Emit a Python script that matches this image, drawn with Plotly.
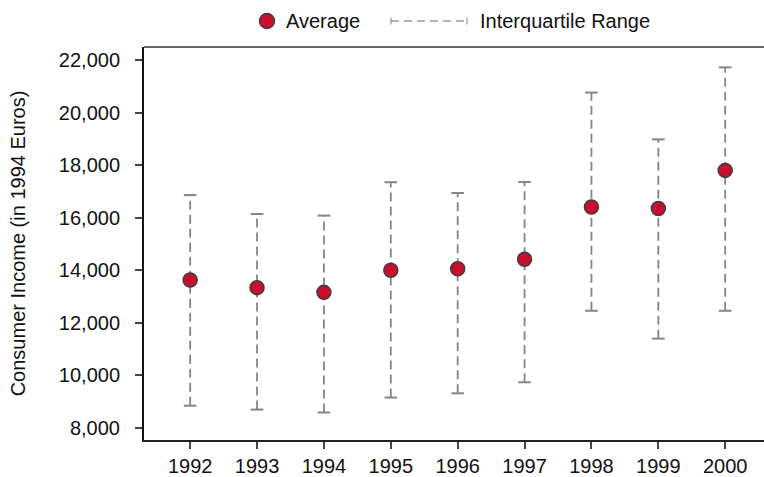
import plotly.graph_objects as go

# Consumer income by year: mean and interquartile range (1994 Euros)
years = [1992, 1993, 1994, 1995, 1996, 1997, 1998, 1999, 2000]
average = [13630, 13340, 13160, 14000, 14060, 14420, 16410, 16350, 17800]
q1 = [8850, 8700, 8590, 9160, 9320, 9740, 12460, 11400, 12460]
q3 = [16860, 16140, 16080, 17350, 16940, 17360, 20760, 18980, 21720]

y_ticks = list(range(8000, 22001, 2000))

W, H = 764, 477
M = dict(l=144, r=0, t=47, b=37)

FONT = "Liberation Sans, Arial, Helvetica, sans-serif"
FS = 20
RED = "#C8102E"
EDGE = "#3d3d3d"
GREY = "#858585"
INK = "#111111"

fig = go.Figure()

# dashed whiskers from Q1 to Q3
wx, wy = [], []
for x, lo, hi in zip(years, q1, q3):
    wx += [x, x, None]
    wy += [lo, hi, None]
fig.add_trace(go.Scatter(
    x=wx, y=wy, mode="lines", hoverinfo="skip", showlegend=False,
    line=dict(color=GREY, width=1.8, dash="9px,5px"),
))

# whisker caps
fig.add_trace(go.Scatter(
    x=years + years, y=q1 + q3, mode="markers", hoverinfo="skip", showlegend=False,
    marker=dict(symbol="line-ew", size=9, line=dict(color=GREY, width=2)),
))

# averages
fig.add_trace(go.Scatter(
    x=years, y=average, mode="markers", name="Average", showlegend=False,
    marker=dict(symbol="circle", size=14, color=RED, line=dict(color=EDGE, width=1.5)),
))


# legend drawn in page pixels
pw = W - M["l"] - M["r"]
ph = H - M["t"] - M["b"]


def px(x):
    return (x - M["l"]) / pw


def py(y):
    return (H - M["b"] - y) / ph


shapes = [
    # top frame line
    dict(type="line", xref="paper", yref="paper", x0=0, x1=1, y0=1, y1=1,
         line=dict(color="#6a6a6a", width=2)),
    # legend: average marker
    dict(type="circle", xref="paper", yref="paper",
         x0=px(259.5), x1=px(274.5), y0=py(28.5), y1=py(13.5),
         fillcolor=RED, line=dict(color=EDGE, width=1.5)),
    # legend: dashed range line with end caps
    dict(type="line", xref="paper", yref="paper",
         x0=px(391), x1=px(467), y0=py(21), y1=py(21),
         line=dict(color="#9a9a9a", width=1.3, dash="8px,5px")),
    dict(type="line", xref="paper", yref="paper",
         x0=px(391), x1=px(391), y0=py(17.5), y1=py(24.5),
         line=dict(color="#9a9a9a", width=1.3)),
    dict(type="line", xref="paper", yref="paper",
         x0=px(467), x1=px(467), y0=py(17.5), y1=py(24.5),
         line=dict(color="#9a9a9a", width=1.3)),
]

annotations = [
    dict(text="Average", xref="paper", yref="paper", x=px(284), y=py(21),
         xanchor="left", yanchor="middle", showarrow=False,
         font=dict(family=FONT, size=FS, color=INK)),
    dict(text="Interquartile Range", xref="paper", yref="paper", x=px(478), y=py(21),
         xanchor="left", yanchor="middle", showarrow=False,
         font=dict(family=FONT, size=FS, color=INK)),
]

fig.update_layout(
    width=W, height=H,
    margin=M,
    paper_bgcolor="white", plot_bgcolor="white",
    font=dict(family=FONT, size=FS, color=INK),
    showlegend=False,
    shapes=shapes,
    annotations=annotations,
    xaxis=dict(
        range=[1991.31, 2000.58],
        tickmode="array", tickvals=years, ticktext=[str(y) for y in years],
        showgrid=False, zeroline=False, automargin=False,
        showline=True, linecolor="#222222", linewidth=2,
        ticks="outside", ticklen=7, tickwidth=1.5, tickcolor="#444444",
        ticklabelstandoff=0,
        tickfont=dict(family=FONT, size=FS, color=INK),
    ),
    yaxis=dict(
        range=[7544, 22494],
        tickmode="array", tickvals=y_ticks, tickformat=",d",
        showgrid=False, zeroline=False, automargin=False,
        showline=True, linecolor="#111111", linewidth=2,
        ticks="outside", ticklen=7, tickwidth=1.5, tickcolor="#444444",
        ticklabelstandoff=11,
        tickfont=dict(family=FONT, size=FS, color=INK),
        title=dict(text="Consumer Income (in 1994 Euros)",
                   font=dict(family=FONT, size=FS, color=INK),
                   standoff=28),
    ),
)

fig.write_html("out.html")
